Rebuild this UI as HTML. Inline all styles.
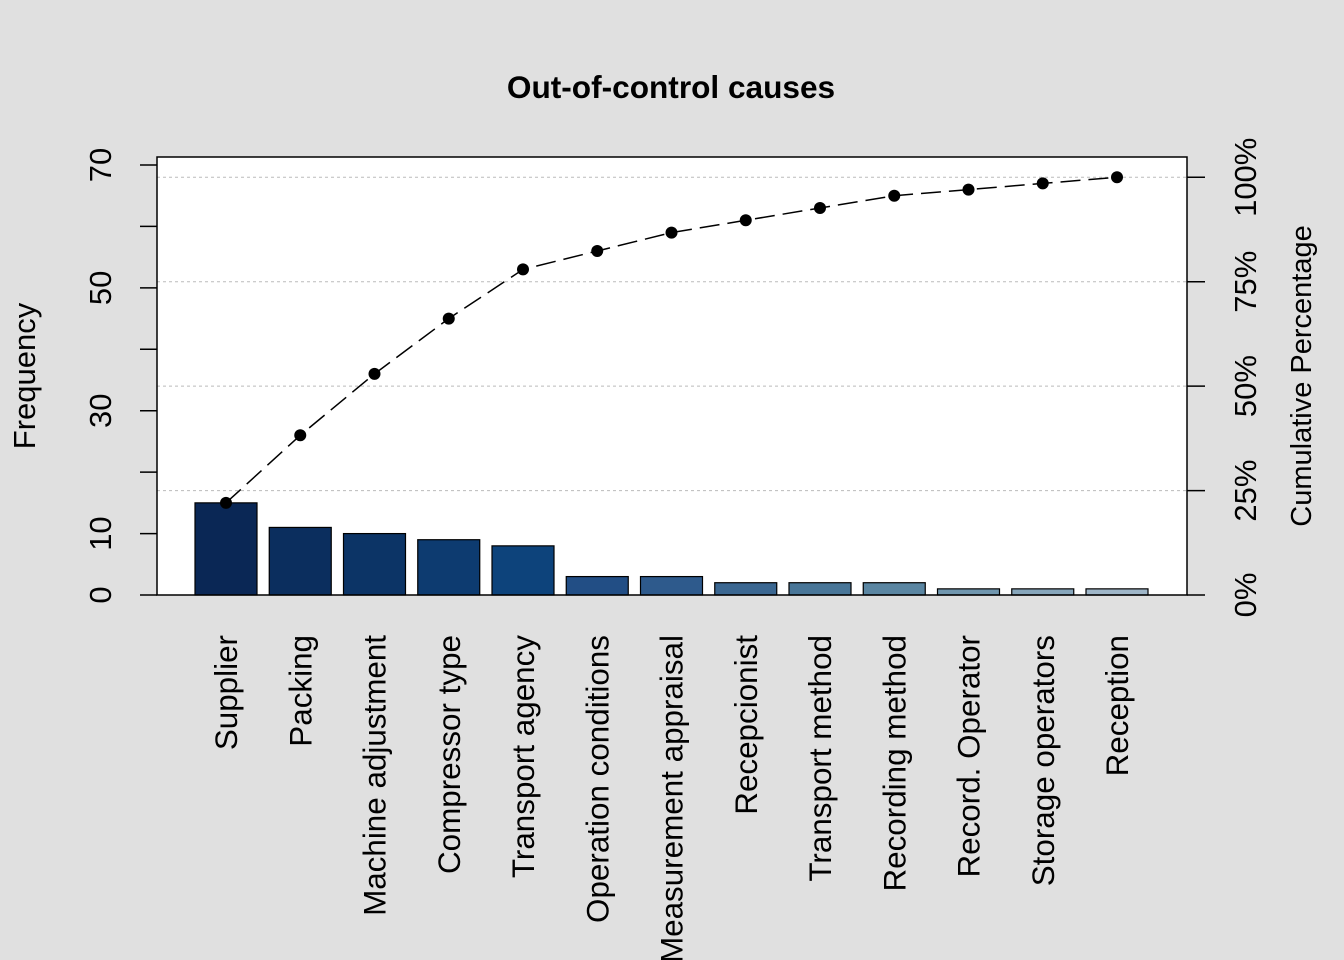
<!DOCTYPE html>
<html><head><meta charset="utf-8"><style>
body{margin:0;background:#e0e0e0}
svg{display:block;font-family:"Liberation Sans",Arial,sans-serif}
</style></head><body>
<svg id="chart" width="1344" height="960">
<rect width="1344" height="960" fill="#e0e0e0"/>
<text x="671" y="98" text-anchor="middle" font-size="31.6" font-weight="bold">Out-of-control causes</text>
<rect x="157" y="157" width="1030" height="438" fill="#fff"/>
<g id="grid"></g><g id="bars"></g><g id="line"></g><g id="axes"></g>
<rect x="157" y="157" width="1030" height="438" fill="none" stroke="#000" stroke-width="1.5"/>
<text transform="translate(35,376) rotate(-90)" text-anchor="middle" font-size="31">Frequency</text>
<text transform="translate(1311,376) rotate(-90)" text-anchor="middle" font-size="29">Cumulative Percentage</text>
</svg>
<script>
const categories=["Supplier","Packing","Machine adjustment","Compressor type","Transport agency","Operation conditions","Measurement appraisal","Recepcionist","Transport method","Recording method","Record. Operator","Storage operators","Reception"];
const counts=[15,11,10,9,8,3,3,2,2,2,1,1,1];
const barColors=["#0a2755","#0b2e5e","#0c3466","#0d3b70","#0d437b","#224e85","#2e5a8c","#3b6791","#497698","#5b86a2","#7096ae","#87a6bb","#9fb6c8"];
const leftTicks=[0,10,20,30,40,50,60,70];
const leftLabels=["0","10","","30","","50","","70"];
const pctTicks=[0,25,50,75,100];
const NS="http://www.w3.org/2000/svg";
const total=counts.reduce((a,b)=>a+b,0);
const y=v=>595-v*430/70;
const x=i=>226+i*74.25;
function mk(p,t,a){const e=document.createElementNS(NS,t);for(const k in a)e.setAttribute(k,a[k]);document.getElementById(p).appendChild(e);return e;}
pctTicks.forEach(p=>{const yy=y(p/100*total);
 if(p>0){const g=mk("grid","line",{x1:157,x2:1187,y1:yy,y2:yy,stroke:"#bbb","stroke-dasharray":"3,3"});
 
 }
 const t=mk("axes","line",{x1:1187,x2:1205,y1:yy,y2:yy,stroke:"#000","stroke-width":1.5});
 
 
 const l=mk("axes","text",{transform:`translate(1256,${yy}) rotate(-90)`,"text-anchor":"middle","font-size":31});
 l.textContent=p+"%";
 
 });
leftTicks.forEach((v,i)=>{const yy=y(v);
 const t=mk("axes","line",{x1:140,x2:157,y1:yy,y2:yy,stroke:"#000","stroke-width":1.5});
 
 
 if(leftLabels[i]){const l=mk("axes","text",{transform:`translate(111,${yy}) rotate(-90)`,"text-anchor":"middle","font-size":31});
 l.textContent=leftLabels[i];
 
 }});
counts.forEach((c,i)=>{
 const b=mk("bars","rect",{x:x(i)-31,y:y(c),width:62,height:y(0)-y(c),fill:barColors[i],stroke:"#000","stroke-width":1.2});
 
 
 const l=mk("axes","text",{transform:`translate(${x(i)+11},635) rotate(-90)`,"text-anchor":"end","font-size":31.4});
 l.textContent=categories[i];
 
 });
let cum=0;const pts=counts.map((c,i)=>{cum+=c;return [x(i),y(cum)];});
const pl=mk("line","polyline",{points:pts.map(p=>p.join(",")).join(" "),fill:"none",stroke:"#000","stroke-width":1.5,"stroke-dasharray":"20,8"});


pts.forEach(p=>{const d=mk("line","circle",{cx:p[0],cy:p[1],r:6,fill:"#000"});
 
 });
</script>
</body></html>
